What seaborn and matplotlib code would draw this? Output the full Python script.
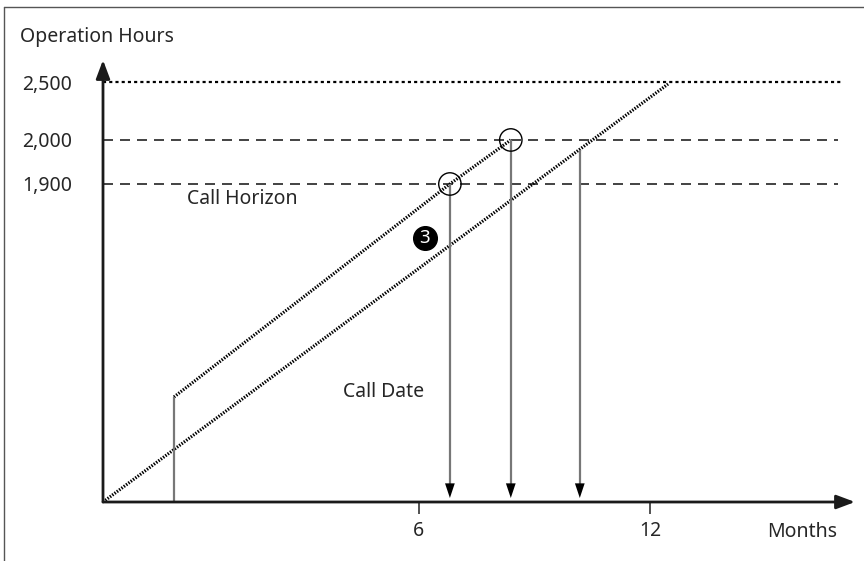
import matplotlib
matplotlib.use('Agg')
import matplotlib.pyplot as plt
import seaborn as sns
from matplotlib.lines import Line2D

# schematic values (x in months, y in schematic hour units; 2,500 at the top)
x_ticks = [6, 12]
x_tick_labels = ['6', '12']
y_ticks = [1893, 2155, 2500]
y_tick_labels = ['1,900', '2,000', '2,500']

# horizon levels
level_y = [2500, 2155, 1893]

# usage line from aircraft start (lower) and shifted usage line (upper)
lower_x = [-2.19, 12.47]
lower_y = [0, 2488]
upper_x = [-0.35, 6.81, 8.39]
upper_y = [625, 1893, 2155]

# call dates (arrows down to the time axis)
call_x = [6.81, 8.39, 10.18]
call_y = [1893, 2155, 2095]

# crossing points marked with circles
circle_x = [6.81, 8.39]
circle_y = [1893, 2155]

x0, x1 = -2.19, 17.32
y0, y1 = 0, 2631

sns.set_style('white')
plt.rcParams['font.family'] = ['Noto Sans', 'DejaVu Sans']
plt.rcParams['font.size'] = 14

fig = plt.figure(figsize=(8.64, 5.61), dpi=100)
ax = fig.add_axes([103 / 864, 59 / 561, 752 / 864, 442 / 561])
ax.set_xlim(x0, x1)
ax.set_ylim(y0, y1)
for s in ax.spines.values():
    s.set_visible(False)

# horizontal levels
ax.hlines(level_y[0], x0, 17.0, color='black', lw=1.6, linestyle=(0, (1.4, 1.4)))
ax.hlines(level_y[1:], x0, 16.88, color='#222222', lw=1.2, linestyle=(0, (6, 4.2)))

# usage lines
sns.lineplot(x=lower_x, y=lower_y, sort=False, estimator=None, color='black',
             lw=2.3, linestyle=(0, (0.45, 0.45)), ax=ax)
sns.lineplot(x=upper_x, y=upper_y, sort=False, estimator=None, color='black',
             lw=2.3, linestyle=(0, (0.45, 0.45)), ax=ax)
ax.vlines(upper_x[0], 0, upper_y[0], color='#777777', lw=1.6)

# call date arrows
for cx, cy in zip(call_x, call_y):
    ax.vlines(cx, 60, cy, color='#777777', lw=1.6)
    ax.annotate('', xy=(cx, 24), xytext=(cx, 140),
                arrowprops=dict(arrowstyle='-|>,head_length=0.75,head_width=0.25',
                                color='black', lw=0.01, shrinkA=0, shrinkB=0))

sns.scatterplot(x=circle_x, y=circle_y, s=260, facecolors='none',
                edgecolor='black', linewidth=1.0, ax=ax, zorder=5)

# axes with arrow heads
ax.annotate('', xy=(x1, 0), xytext=(x0, 0), annotation_clip=False,
            arrowprops=dict(arrowstyle='-|>,head_length=0.8,head_width=0.3',
                            color='#1a1a1a', lw=2, shrinkA=0, shrinkB=0))
ax.annotate('', xy=(x0, y1), xytext=(x0, 0), annotation_clip=False,
            arrowprops=dict(arrowstyle='-|>,head_length=0.8,head_width=0.3',
                            color='#1a1a1a', lw=2, shrinkA=0, shrinkB=0))

ax.set_xticks(x_ticks)
ax.set_xticklabels(x_tick_labels)
ax.set_yticks(y_ticks)
ax.set_yticklabels(y_tick_labels)
ax.tick_params(axis='x', direction='out', length=8.6, width=1.2, color='#333333',
               pad=5, labelsize=14, bottom=True)
ax.tick_params(axis='y', length=0, pad=22, labelsize=14, left=True)
ax.set_xlabel('')
ax.set_ylabel('')

# labels
ax.text(-4.34, 2768, 'Operation Hours', ha='left', va='center', fontsize=14, clip_on=False)
ax.text(15.94, -179, 'Months', ha='center', va='center', fontsize=14, clip_on=False)
ax.text(1.42, 1804, 'Call Horizon', ha='center', va='center', fontsize=14)
ax.text(5.10, 655, 'Call Date', ha='center', va='center', fontsize=14)
ax.scatter([6.16], [1571], s=290, color='black', zorder=6)
ax.text(6.16, 1571, '3', ha='center', va='center', color='white',
        fontsize=13.5, fontweight='bold', zorder=7)

# frame lines (top and left of the picture)
fig.add_artist(Line2D([3.5 / 864, 3.5 / 864], [0, 1 - 6.5 / 561],
                      transform=fig.transFigure, color='#555555', lw=1))
fig.add_artist(Line2D([3.5 / 864, 1], [1 - 6.5 / 561, 1 - 6.5 / 561],
                      transform=fig.transFigure, color='#555555', lw=1))

fig.savefig('out.png', dpi=100)
